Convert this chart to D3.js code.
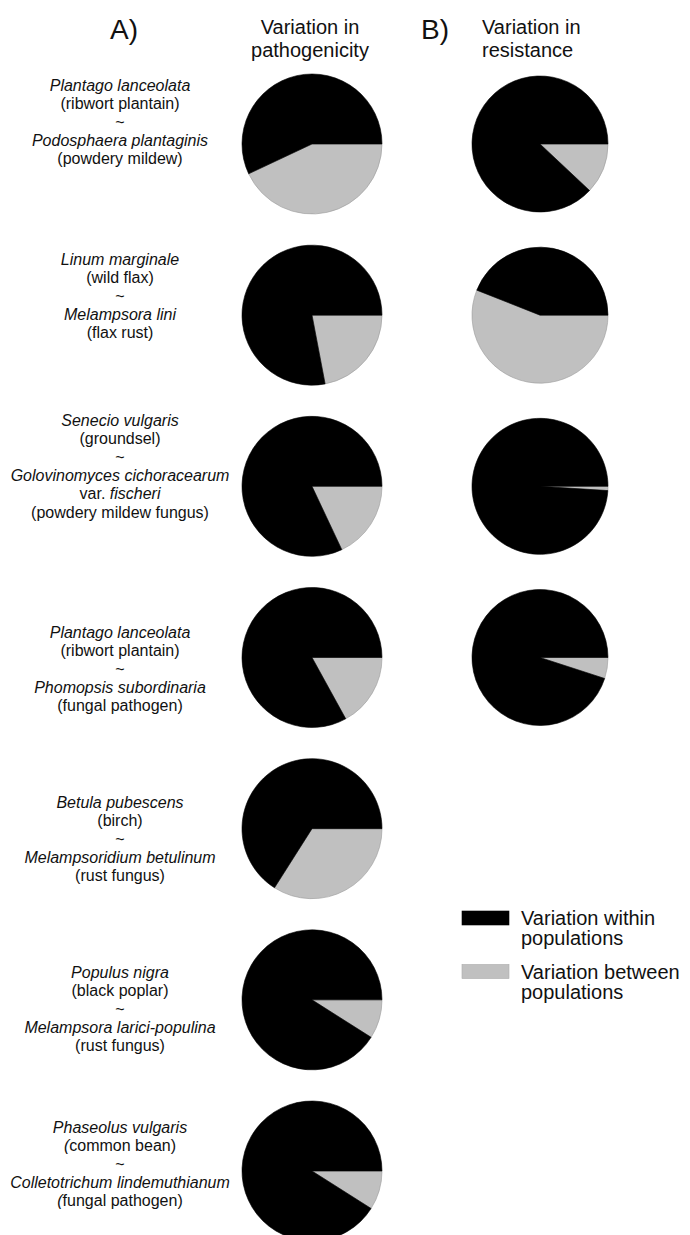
<!DOCTYPE html>
<html>
<head>
<meta charset="utf-8">
<script src="https://cdn.jsdelivr.net/npm/d3@7"></script>
<style>
  html, body { margin: 0; padding: 0; background: #fff; }
  svg { display: block; font-family: "Liberation Sans", Arial, sans-serif; }
</style>
</head>
<body>
<svg id="chart" width="690" height="1235"></svg>
<script>
// ---------------- DATA ----------------
const systems = ["PL-PP", "LM-ML", "SV-GC", "PL-PS", "BP-MB", "PN-ML", "PV-CL"];

// % of variation BETWEEN populations (remainder = within populations)
const pathogenicityBetween = [43, 22, 18, 17, 34, 9, 9];
const resistanceBetween    = [12, 56, 1, 5];          // first four systems only

const componentNames = ["Variation between populations", "Variation within populations"];
const legendLabels = [["Variation within", "populations"], ["Variation between", "populations"]];
const columnTitles = [["Variation in", "pathogenicity"], ["Variation in", "resistance"]];
const panelLetters = ["A)", "B)"];

// label lines: segments [text, italic]
const systemLabels = [
  [[["Plantago lanceolata", true]], [["(ribwort plantain)", false]], [["~", false]],
   [["Podosphaera plantaginis", true]], [["(powdery mildew)", false]]],
  [[["Linum marginale", true]], [["(wild flax)", false]], [["~", false]],
   [["Melampsora lini", true]], [["(flax rust)", false]]],
  [[["Senecio vulgaris", true]], [["(groundsel)", false]], [["~", false]],
   [["Golovinomyces cichoracearum", true]], [["var. ", false], ["fischeri", true]],
   [["(powdery mildew fungus)", false]]],
  [[["Plantago lanceolata", true]], [["(ribwort plantain)", false]], [["~", false]],
   [["Phomopsis subordinaria", true]], [["(fungal pathogen)", false]]],
  [[["Betula pubescens", true]], [["(birch)", false]], [["~", false]],
   [["Melampsoridium betulinum", true]], [["(rust fungus)", false]]],
  [[["Populus nigra", true]], [["(black poplar)", false]], [["~", false]],
   [["Melampsora larici-populina", true]], [["(rust fungus)", false]]],
  [[["Phaseolus vulgaris", true]], [["(", true], ["common bean)", false]], [["~", false]],
   [["Colletotrichum lindemuthianum", true]], [["(", true], ["fungal pathogen)", false]]]
];

// ---------------- LAYOUT ----------------
const labelFirstBaseline = [91, 265, 426, 638, 808, 978, 1133];
const labelCenterX = 120;
const lineStep = 18.3;
const colors = { between: "#c0c0c0", within: "#000000" };

const svg = d3.select("#chart");

const yRow = d3.scalePoint().domain(systems).range([144, 1171]);
const xCol = d3.scalePoint().domain(["pathogenicity", "resistance"]).range([312, 540]);
const radius = { pathogenicity: 70, resistance: 68 };
const color = d3.scaleOrdinal().domain(componentNames).range([colors.between, colors.within]);

const pie = d3.pie()
  .sort(null)
  .value(d => d.value)
  .startAngle(Math.PI / 2)
  .endAngle(Math.PI / 2 + 2 * Math.PI);

function drawPie(col, sys, between) {
  const data = [
    { name: componentNames[0], value: between },
    { name: componentNames[1], value: 100 - between }
  ];
  const arc = d3.arc().innerRadius(0).outerRadius(radius[col]);
  const g = svg.append("g")
    .attr("transform", `translate(${xCol(col)},${yRow(sys)})`);
  g.selectAll("path")
    .data(pie(data))
    .join("path")
    .attr("d", arc)
    .attr("fill", d => color(d.data.name))
    .attr("stroke", d => d.data.name === componentNames[0] ? "#9a9a9a" : "#000")
    .attr("stroke-width", 0.6);
}

pathogenicityBetween.forEach((v, i) => drawPie("pathogenicity", systems[i], v));
resistanceBetween.forEach((v, i) => drawPie("resistance", systems[i], v));

// ---------------- HEADERS ----------------
svg.append("text").attr("x", 124).attr("y", 39)
  .attr("text-anchor", "middle").attr("font-size", 28).attr("fill", "#111")
  .text(panelLetters[0]);
svg.append("text").attr("x", 435).attr("y", 39)
  .attr("text-anchor", "middle").attr("font-size", 28).attr("fill", "#111")
  .text(panelLetters[1]);

const tA = svg.append("text").attr("text-anchor", "middle").attr("font-size", 20).attr("fill", "#111");
columnTitles[0].forEach((s, i) => tA.append("tspan").attr("x", 310).attr("y", 34 + i * 23).text(s));
const tB = svg.append("text").attr("text-anchor", "start").attr("font-size", 20).attr("fill", "#111");
columnTitles[1].forEach((s, i) => tB.append("tspan").attr("x", 482).attr("y", 34 + i * 23).text(s));

// ---------------- SYSTEM LABELS ----------------
systemLabels.forEach((lines, i) => {
  lines.forEach((segs, j) => {
    const t = svg.append("text")
      .attr("x", labelCenterX)
      .attr("y", labelFirstBaseline[i] + j * lineStep)
      .attr("text-anchor", "middle")
      .attr("font-size", 16)
      .attr("fill", "#111");
    segs.forEach(([s, it]) => {
      t.append("tspan").attr("font-style", it ? "italic" : "normal").text(s);
    });
  });
});

// ---------------- LEGEND ----------------
const legendItems = [
  { fill: colors.within, stroke: "#000", top: 911, lines: legendLabels[0] },
  { fill: colors.between, stroke: "#aaa", top: 964.5, lines: legendLabels[1] }
];
legendItems.forEach(it => {
  svg.append("rect").attr("x", 462).attr("y", it.top).attr("width", 47).attr("height", 14)
    .attr("fill", it.fill).attr("stroke", it.stroke).attr("stroke-width", 0.6);
  const t = svg.append("text").attr("font-size", 20).attr("fill", "#111");
  it.lines.forEach((s, i) => t.append("tspan").attr("x", 521).attr("y", it.top + 14 + i * 20).text(s));
});
</script>
</body>
</html>
